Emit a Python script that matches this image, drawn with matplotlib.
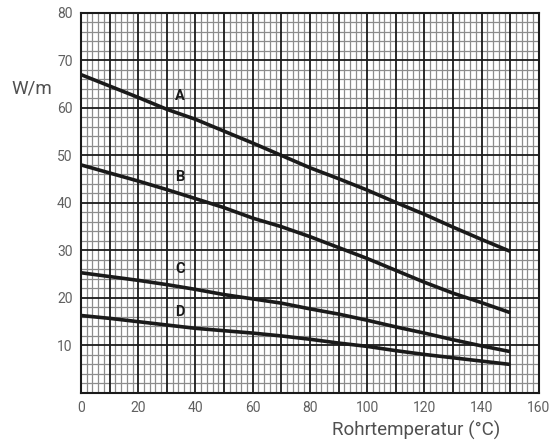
import matplotlib
matplotlib.use("Agg")
import matplotlib.pyplot as plt
import numpy as np

# curve data (Rohrtemperatur in °C, W/m)
temp = [0, 10, 20, 30, 40, 50, 60, 70, 80, 90, 100, 110, 120, 130, 140, 150]
curve_a = [67.0, 64.6, 62.2, 59.7, 57.6, 55.1, 52.6, 50.0, 47.4, 45.1, 42.7, 40.1, 37.6, 34.9, 32.3, 29.8]
curve_b = [48.0, 46.3, 44.6, 42.8, 40.9, 39.0, 36.8, 35.0, 32.9, 30.6, 28.3, 25.8, 23.3, 21.0, 19.0, 16.9]
curve_c = [25.3, 24.5, 23.7, 22.8, 21.8, 20.7, 19.8, 18.9, 17.7, 16.6, 15.3, 13.9, 12.6, 11.2, 9.9, 8.7]
curve_d = [16.3, 15.7, 15.0, 14.3, 13.6, 13.1, 12.6, 12.0, 11.3, 10.5, 9.8, 8.9, 8.1, 7.4, 6.7, 6.0]

curves = {"A": curve_a, "B": curve_b, "C": curve_c, "D": curve_d}
label_pos = {"A": (34.5, 62.5), "B": (34.5, 45.5), "C": (34.5, 26.0), "D": (34.5, 17.0)}

x_ticks = [0, 20, 40, 60, 80, 100, 120, 140, 160]
y_ticks = [10, 20, 30, 40, 50, 60, 70, 80]

plt.rcParams["font.family"] = ["Roboto", "DejaVu Sans"]

fig = plt.figure(figsize=(5.51, 4.44), dpi=100)
ax = fig.add_axes([0.147, 0.115, 0.831, 0.856])

ax.set_xlim(0, 160)
ax.set_ylim(0, 80)

# millimetre-paper style grid: thin grey every 2, dark every 10
for v in range(0, 161, 2):
    if v % 10:
        ax.axvline(v, color="#8c8c8c", linewidth=0.9, zorder=0)
for v in range(0, 81, 2):
    if v % 10:
        ax.axhline(v, color="#8c8c8c", linewidth=0.9, zorder=0)
for v in range(10, 160, 10):
    ax.axvline(v, color="#1a1a1a", linewidth=1.3, zorder=1)
for v in range(10, 80, 10):
    ax.axhline(v, color="#1a1a1a", linewidth=1.3, zorder=1)

ax.set_xticks(x_ticks)
ax.set_yticks(y_ticks)
ax.tick_params(which="both", length=0)
ax.tick_params(axis="both", labelsize=10, labelcolor="#606060", pad=6)

for s in ax.spines.values():
    s.set_color("#1a1a1a")
    s.set_linewidth(1.5)

for name, vals in curves.items():
    ax.plot(temp, vals, color="#1a1a1a", linewidth=2.6, solid_capstyle="butt", zorder=3)
    lx, ly = label_pos[name]
    ax.text(lx, ly, name, fontsize=10.5, fontweight="bold", color="#1a1a1a",
            ha="center", va="center", zorder=4)

fig.text(0.058, 0.80, "W/m", fontsize=13.5, color="#505050", ha="center", va="center")
fig.text(0.755, 0.008, "Rohrtemperatur (°C)", fontsize=13.5, color="#505050",
         ha="center", va="bottom")

fig.savefig("out.png", dpi=100)
